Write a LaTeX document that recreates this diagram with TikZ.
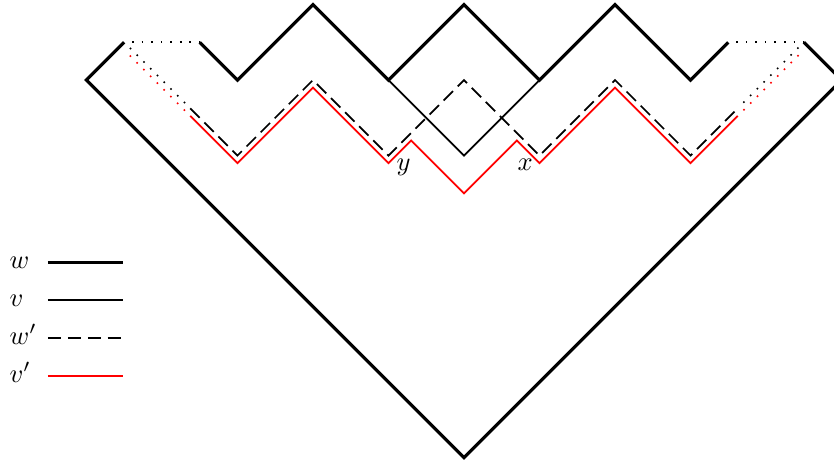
\documentclass[tikz,border=0pt]{standalone}
\usepackage{amsmath}
\usetikzlibrary{calc}
\definecolor{pathred}{RGB}{255,0,0}

\begin{document}
\begin{tikzpicture}[x=0.5cm, y=0.5cm,
  every node/.style={font=\normalsize, inner sep=0pt},
  wline/.style={line width=1.2pt},
  vline/.style={line width=0.65pt},
  wpline/.style={line width=0.65pt, dash pattern=on 5pt off 2.5pt},
  vpline/.style={line width=0.65pt, pathred},
  dotline/.style={line width=0.6pt, dash pattern=on 0.6pt off 3pt, dash phase=0.6pt}]
\useasboundingbox (-12.29,-0.04) rectangle (9.80,12.12);
\clip (-12.29,-0.04) rectangle (9.80,12.12);
% w
\draw[wline] (-9,11) -- (-10,10) -- (0,0) -- (10,10) -- (9,11);
\draw[dotline] (-9,11) -- (-7,11);
\draw[wline] (-7,11) -- (-6,10) -- (-4,12) -- (-2,10) -- (0,12) -- (2,10) -- (4,12) -- (6,10) -- (7,11);
\draw[dotline] (7,11) -- (9,11);
% v
\draw[vline] (-2,10) -- (0,8) -- (2,10);
% w'
\draw[dotline] (-9,11) -- (-7.25,9.25);
\draw[wpline] (-7.25,9.25) -- (-6,8) -- (-4,10) -- (-2,8) -- (0,10) -- (2,8) -- (4,10) -- (6,8) -- (7.25,9.25);
\draw[dotline] (7.25,9.25) -- (9,11);
% v'
\draw[dotline, pathred] (-9,10.8) -- (-7.25,9.05);
\draw[vpline] (-7.25,9.05) -- (-6,7.8) -- (-4,9.8) -- (-2,7.8) -- (-1.4,8.4) -- (0,7) -- (1.4,8.4) -- (2,7.8) -- (4,9.8) -- (6,7.8) -- (7.25,9.05);
\draw[dotline, pathred] (7.25,9.05) -- (9,10.8);
% labels
\node (ylab) at (-1.6,7.7) {$y$};
\node (xlab) at (1.62,7.75) {$x$};
% legend
\node[anchor=base west] (lw) at (-12.05,5.0) {$w$};
\node[anchor=base west] (lv) at (-12.05,4.0) {$v$};
\node[anchor=base west] (lwp) at (-12.05,3.0) {$w'$};
\node[anchor=base west] (lvp) at (-12.05,2.0) {$v'$};
\draw[wline] (-11.02,5.17) -- (-9.03,5.17);
\draw[vline] (-11.02,4.17) -- (-9.03,4.17);
\draw[wpline] (-11.02,3.17) -- (-9.03,3.17);
\draw[vpline] (-11.02,2.17) -- (-9.03,2.17);
\end{tikzpicture}
\end{document}
